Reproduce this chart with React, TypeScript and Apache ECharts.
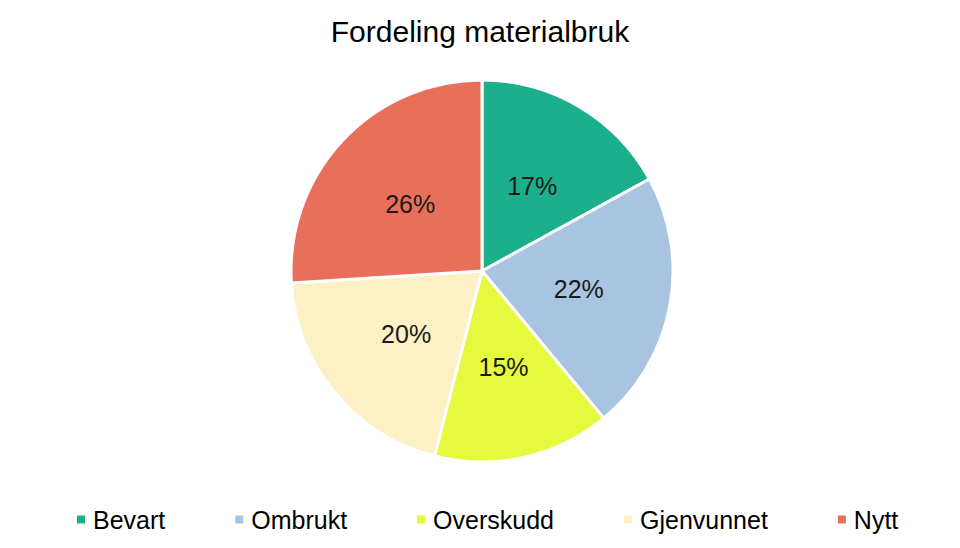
import React, { useEffect, useRef } from "react";
import * as echarts from "echarts";

const categories = ["Bevart", "Ombrukt", "Overskudd", "Gjenvunnet", "Nytt"];
const values = [17, 22, 15, 20, 26];
const colors = ["#1bb08b", "#a8c4e0", "#e5f93e", "#fdf0c5", "#e8705a"];

export default function App() {
  const ref = useRef<HTMLDivElement>(null);
  useEffect(() => {
    document.body.style.margin = "0";
    const chart = echarts.init(ref.current!, null, { renderer: "svg" });
    const font = "'Liberation Sans', Arial, sans-serif";
    chart.setOption({
      animation: false,
      backgroundColor: "#ffffff",
      title: {
        text: "Fordeling materialbruk",
        left: "center",
        top: 11,
        textStyle: { fontFamily: font, fontSize: 30, fontWeight: "normal", color: "#000" },
      },
      legend: {
        left: 70,
        top: 502,
        itemWidth: 10,
        itemHeight: 10,
        itemGap: 68,
        icon: "rect",
        textStyle: { fontFamily: font, fontSize: 25, color: "#000", padding: [0, 0, 0, 2] },
        data: categories,
      },
      series: [
        {
          type: "pie",
          center: [482, 271],
          radius: 191,
          startAngle: 90,
          clockwise: true,
          data: categories.map((c, i) => ({
            name: c,
            value: values[i],
            itemStyle: { color: colors[i] },
          })),
          itemStyle: { borderColor: "#ffffff", borderWidth: 3 },
          label: {
            show: true,
            position: "inner",
            formatter: "{c}%",
            fontFamily: font,
            fontSize: 25,
            color: "#1a1a1a",
          },
          labelLine: { show: false },
          emphasis: { disabled: true },
        },
      ],
    });
    return () => chart.dispose();
  }, []);
  return <div ref={ref} style={{ width: 960, height: 548 }} />;
}
